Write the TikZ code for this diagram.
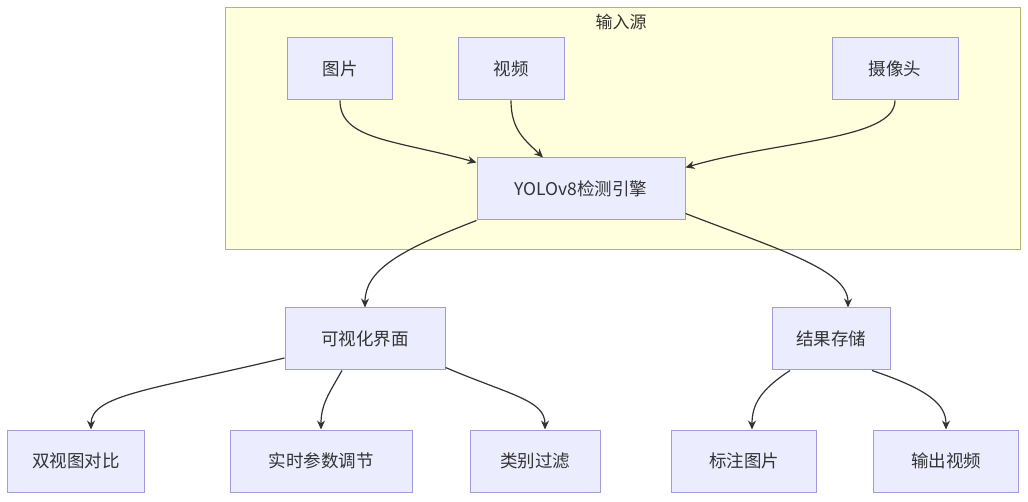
\documentclass[tikz,border=0pt]{standalone}
\usepackage{fontspec}
\setmainfont{Noto Sans CJK SC}
\usetikzlibrary{arrows.meta}
\definecolor{nodefill}{HTML}{ECECFF}
\definecolor{nodeborder}{HTML}{A29BDB}
\definecolor{grpfill}{HTML}{FFFFDE}
\definecolor{grpborder}{HTML}{B5B56A}
\definecolor{linkcol}{HTML}{333333}
\definecolor{txt}{HTML}{333333}
\begin{document}
\begin{tikzpicture}[x=1pt,y=-1pt,
  box/.style={draw=nodeborder, fill=nodefill, line width=1pt, minimum height=62pt, inner sep=0pt,
    font=\fontsize{17.5}{21}\selectfont, text=txt},
  link/.style={draw=linkcol, line width=1.2pt, -{Stealth[length=9pt,width=8pt]}}]
\useasboundingbox (0,0) rectangle (1028,502);
\fill[white] (0,0) rectangle (1028,502);
% group
\draw[fill=grpfill, draw=grpborder, line width=1pt] (225,8) rectangle (1020,250);
\node[font=\fontsize{17}{20}\selectfont, text=txt] (grptitle) at (621,22) {输入源};
% nodes
\node[box, minimum width=105pt] (img) at (340,69) {图片};
\node[box, minimum width=106pt] (vid) at (511,69) {视频};
\node[box, minimum width=126pt] (cam) at (895,69) {摄像头};
\node[box, minimum width=208pt] (yolo) at (581,189) {YOLOv8检测引擎};
\node[box, minimum width=160pt] (vis) at (365,339) {可视化界面};
\node[box, minimum width=118pt] (store) at (831,339) {结果存储};
\node[box, minimum width=137pt] (dual) at (76,461) {双视图对比};
\node[box, minimum width=182pt] (rt) at (321,461) {实时参数调节};
\node[box, minimum width=130pt] (cat) at (535,461) {类别过滤};
\node[box, minimum width=145pt] (lab) at (744,461) {标注图片};
\node[box, minimum width=145pt] (vout) at (946,461) {输出视频};
% links
\draw[link] (img.south) .. controls (340,140) and (395,140) .. ([yshift=-5pt]yolo.north west);
\draw[link] (vid.south) .. controls (511,130) and (525,140) .. ([xshift=-38pt]yolo.north);
\draw[link] (cam.south) .. controls (895,140) and (780,140) .. ([yshift=-10pt]yolo.north east);
\draw[link] (yolo.south west) .. controls (400,250) and (365,270) .. (vis.north);
\draw[link] ([yshift=7pt]yolo.south east) .. controls (780,250) and (848,270) .. ([xshift=17pt]store.north);
\draw[link] ([yshift=-19pt]vis.west) .. controls (150,390) and (91,395) .. ([xshift=15pt]dual.north);
\draw[link] ([xshift=-23pt]vis.south) .. controls (328,395) and (321,405) .. (rt.north);
\draw[link] ([yshift=3pt]vis.south east) .. controls (510,395) and (545,400) .. ([xshift=10pt]cat.north);
\draw[link] ([xshift=-41pt]store.south) .. controls (760,390) and (752,405) .. ([xshift=8pt]lab.north);
\draw[link] ([xshift=41pt]store.south) .. controls (930,390) and (946,405) .. (vout.north);
\end{tikzpicture}
\end{document}
